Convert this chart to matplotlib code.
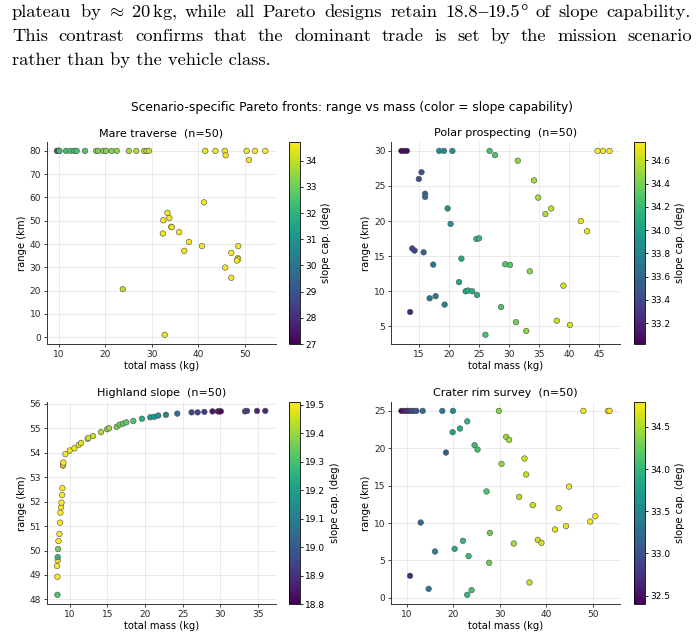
import matplotlib
matplotlib.use("Agg")
import matplotlib.pyplot as plt
from matplotlib.ticker import MultipleLocator

plt.rcParams['mathtext.fontset'] = 'cm'

# ---- data ----
scenarios = ["Mare traverse", "Polar prospecting", "Highland slope", "Crater rim survey"]

mare_mass = [9.7, 9.8, 9.9, 10.0, 10.1, 10.2, 11.6, 12.6, 13.4, 13.9, 15.7, 18.1, 18.5, 19.6,
             20.2, 21.4, 22.5, 25.1, 26.7, 28.4, 28.9, 29.4, 41.5, 43.7, 45.7, 50.4, 52.2, 54.4,
             45.9, 50.9, 41.25, 33.4, 32.5, 33.8, 34.2, 34.3, 32.4, 35.9, 38.0, 37.0, 40.8,
             48.6, 47.1, 48.5, 48.6, 48.3, 45.8, 47.1, 23.8, 32.8]
mare_range = [80, 80, 80, 80, 80, 80, 80, 80, 80, 80, 80, 80, 80, 80,
              80, 80, 80, 80, 80, 80, 80, 80, 80, 80, 80, 80, 80, 80,
              78.1, 76.1, 57.9, 53.4, 50.2, 51.2, 47.4, 47.2, 44.5, 45.1, 40.9, 37.1, 39.1,
              39.1, 36.2, 33.9, 33.4, 32.9, 29.9, 25.5, 20.6, 1.0]
mare_slope = [27.0, 29.0, 30.5, 31.5, 32.0, 32.3, 32.3, 32.4, 32.4, 32.5, 32.6, 33.1, 33.2, 33.2,
              33.3, 33.3, 33.4, 33.7, 33.8, 33.9, 34.0, 34.0, 34.5, 34.55, 34.6, 34.65, 34.7, 34.73,
              34.6, 34.65, 34.6, 34.6, 34.6, 34.6, 34.6, 34.6, 34.55, 34.6, 34.6, 34.6, 34.62,
              34.65, 34.65, 34.65, 34.65, 34.65, 34.65, 34.65, 33.9, 34.55]

polar_mass = [12.1, 12.5, 13.0, 18.4, 19.2, 20.6, 26.8, 27.7, 31.5, 34.2, 34.9, 36.1, 37.05,
              42.0, 43.05, 44.8, 45.7, 46.8,
              15.45, 15.0, 16.05, 16.05, 19.8, 20.3, 24.6, 25.05, 13.9, 14.3, 15.8, 17.4, 22.1,
              29.4, 30.2, 33.5, 21.7, 22.8, 23.2, 23.9, 24.7, 16.8, 17.8, 19.3, 13.55, 28.7,
              31.2, 32.9, 26.1, 38.0, 40.2, 39.1]
polar_range = [30, 30, 30, 30, 30, 30, 30, 29.4, 28.6, 25.8, 23.35, 21.0, 21.8,
               20.0, 18.55, 30, 30, 30,
               26.96, 26.0, 23.9, 23.45, 21.8, 19.6, 17.45, 17.55, 16.1, 15.8, 15.55, 13.8, 14.65,
               13.85, 13.75, 12.85, 11.3, 10.0, 10.1, 10.0, 9.47, 9.0, 9.3, 8.1, 7.05, 7.75,
               5.6, 4.35, 3.8, 5.8, 5.2, 10.8]
polar_slope = [33.02, 33.05, 33.06, 33.86, 33.87, 33.89, 34.24, 34.27, 34.45, 34.52, 34.53, 34.55, 34.59,
               34.69, 34.71, 34.74, 34.75, 34.76,
               33.46, 33.45, 33.63, 33.63, 33.89, 33.92, 34.15, 34.16, 33.37, 33.38, 33.54, 33.72, 34.06,
               34.29, 34.30, 34.46, 34.03, 34.08, 34.10, 34.10, 34.12, 33.72, 33.74, 33.80, 33.19, 34.27,
               34.38, 34.45, 34.24, 34.62, 34.66, 34.64]

high_mass = [8.36, 8.36, 8.32, 8.4, 8.4, 8.45, 8.5, 8.63, 8.72, 8.76, 8.85, 8.9, 8.98, 9.03,
             9.1, 9.12, 9.16, 9.42, 10.0, 10.62, 11.2, 11.5, 12.39, 12.48, 13.1, 14.16, 14.96,
             15.22, 16.24, 16.64, 17.08, 17.52, 18.45, 19.6, 20.7, 21.24, 21.77, 22.79, 24.3,
             26.2, 27.0, 27.9, 28.98, 29.7, 29.87, 30.09, 33.3, 33.58, 34.9, 36.0]
high_range = [48.19, 48.93, 49.37, 49.6, 49.73, 50.06, 50.39, 50.68, 51.14, 51.55, 51.77, 51.96, 52.27, 52.55,
              53.47, 53.52, 53.6, 53.94, 54.09, 54.18, 54.32, 54.4, 54.57, 54.6, 54.68, 54.84, 54.96,
              55.0, 55.06, 55.15, 55.19, 55.24, 55.3, 55.39, 55.45, 55.47, 55.52, 55.55, 55.6,
              55.65, 55.65, 55.67, 55.69, 55.69, 55.69, 55.69, 55.69, 55.71, 55.71, 55.71]
high_slope = [19.31, 19.51, 19.51, 19.5, 19.27, 19.36, 19.51, 19.51, 19.51, 19.51, 19.51, 19.51, 19.51, 19.51,
              19.51, 19.51, 19.51, 19.5, 19.49, 19.49, 19.48, 19.48, 19.46, 19.46, 19.45, 19.42, 19.41,
              19.4, 19.36, 19.35, 19.34, 19.33, 19.31, 19.24, 19.18, 19.17, 19.15, 19.13, 19.06,
              18.95, 18.94, 18.92, 18.84, 18.8, 18.8, 18.81, 18.92, 18.93, 18.87, 18.88]

crater_mass = [8.86, 9.36, 9.9, 10.14, 10.64, 11.14, 11.57, 12.07, 13.43, 17.64, 19.93, 29.79,
               47.93, 53.21, 53.57,
               23.0, 21.43, 19.86, 31.36, 32.0, 24.57, 25.2, 18.43, 35.29, 30.36, 35.64, 44.86,
               27.14, 34.14, 37.07, 42.64, 49.4, 50.5, 13.0, 41.86, 44.21, 27.86, 22.07, 38.14,
               38.93, 33.0, 20.29, 16.07, 23.29, 27.71, 10.71, 36.36, 14.71, 23.93, 23.0]
crater_range = [25, 25, 25, 25, 25, 25, 25, 25, 25, 25, 25, 25,
                25, 25, 25,
                23.6, 22.64, 22.15, 21.52, 21.12, 20.41, 19.83, 19.43, 18.63, 17.91, 16.49, 14.88,
                14.22, 13.5, 12.39, 11.99, 10.2, 10.9, 10.07, 9.14, 9.58, 8.69, 7.62, 7.75,
                7.35, 7.26, 6.55, 6.19, 5.57, 4.68, 2.94, 2.05, 1.2, 1.02, 0.4]
crater_slope = [32.40, 32.52, 32.58, 32.64, 32.76, 32.88, 32.93, 33.0, 33.24, 33.41, 33.6, 34.37,
                34.73, 34.8, 34.78,
                33.96, 33.89, 33.79, 34.44, 34.46, 34.03, 34.08, 33.12, 34.61, 34.39, 34.61, 34.73,
                34.13, 34.51, 34.61, 34.68, 34.75, 34.78, 33.19, 34.68, 34.7, 34.27, 33.98, 34.63,
                34.63, 34.46, 33.89, 33.48, 34.03, 34.27, 32.69, 34.61, 33.36, 34.08, 33.98]

masses = [mare_mass, polar_mass, high_mass, crater_mass]
ranges = [mare_range, polar_range, high_range, crater_range]
slopes = [mare_slope, polar_slope, high_slope, crater_slope]

xsteps = [10, 5, 5, 10]
ysteps = [10, 5, 1, 5]
cbsteps = [1, 0.2, 0.1, 0.5]

W, H = 699, 641
fig = plt.figure(figsize=(W / 100, H / 100), dpi=100)

# ---- paragraph text above the figure (justified lines) ----
textsize = 13.3
renderer = fig.canvas.get_renderer()

def justify(words, ybase, x0, x1):
    # each word is a list of (text, family) pieces set next to each other
    pieces = []
    widths = []
    for w in words:
        objs = [fig.text(0, 1 - ybase / H, t, fontsize=textsize, family=f, va='baseline')
                for t, f in w]
        ws = [o.get_window_extent(renderer).width for o in objs]
        pieces.append(list(zip(objs, ws)))
        widths.append(sum(ws))
    gap = ((x1 - x0) - sum(widths)) / (len(words) - 1)
    x = x0
    for p, wd in zip(pieces, widths):
        xx = x
        for o, w in p:
            o.set_x(xx / W)
            xx += w
        x += wd + gap

def plain(s):
    return [(s, 'cmr10')]

line1 = [plain("plateau"), plain(r"by $\approx\;20\,$kg,"),
         plain("while"), plain("all"), plain("Pareto"), plain("designs"), plain("retain"),
         [("18.8", 'cmr10'), ("\u2013", 'Liberation Serif'), ("19.5", 'cmr10'), ("\u00b0", 'Liberation Serif')],
         plain("of"), plain("slope"), plain("capability.")]
line2 = [plain(w) for w in "This contrast confirms that the dominant trade is set by the mission scenario".split()]
justify(line1, 17, 12, 691)
justify(line2, 41, 12, 692)
fig.text(12 / W, 1 - 65 / H, "rather than by the vehicle class.", fontsize=textsize,
         family='cmr10', va='baseline')

fig.text(0.503, 1 - 108 / H, "Scenario-specific Pareto fronts: range vs mass (color = slope capability)",
         ha='center', va='center', fontsize=8.8)

# ---- four scatter panels ----
axpos = [[46.7, 141.7], [391, 141.7], [46.7, 401.7], [391, 401.7]]
cbx = [289.3, 634.3, 289.3, 634.3]
aw, ah = 229, 202.3

for i in range(4):
    left, top = axpos[i]
    ax = fig.add_axes([left / W, 1 - (top + ah) / H, aw / W, ah / H])
    cax = fig.add_axes([cbx[i] / W, 1 - (top + ah) / H, 10.5 / W, ah / H])

    sc = ax.scatter(masses[i], ranges[i], c=slopes[i], cmap='viridis', s=16,
                    edgecolors='0.3', linewidths=0.4, zorder=3)
    ax.set_title("%s  (n=%i)" % (scenarios[i], len(masses[i])), fontsize=8.0, pad=4)
    ax.set_xlabel("total mass (kg)", fontsize=7.2, labelpad=1.5)
    ax.set_ylabel("range (km)", fontsize=7.2, labelpad=2)
    ax.xaxis.set_major_locator(MultipleLocator(xsteps[i]))
    ax.yaxis.set_major_locator(MultipleLocator(ysteps[i]))
    ax.tick_params(labelsize=6.5, length=2.5, width=0.6, pad=1.5, colors='0.15')
    ax.grid(True, color='0.85', linewidth=0.6, alpha=0.6)
    ax.spines['top'].set_visible(False)
    ax.spines['right'].set_visible(False)
    for s in ['left', 'bottom']:
        ax.spines[s].set_linewidth(0.7)
        ax.spines[s].set_color('0.2')

    cb = fig.colorbar(sc, cax=cax)
    cb.set_label("slope cap. (deg)", fontsize=7.2, labelpad=3)
    cb.locator = MultipleLocator(cbsteps[i])
    cb.update_ticks()
    cb.ax.tick_params(labelsize=6.5, length=2.5, width=0.6, pad=1.5)
    cb.outline.set_linewidth(0.6)

fig.savefig("out.png", dpi=100)
